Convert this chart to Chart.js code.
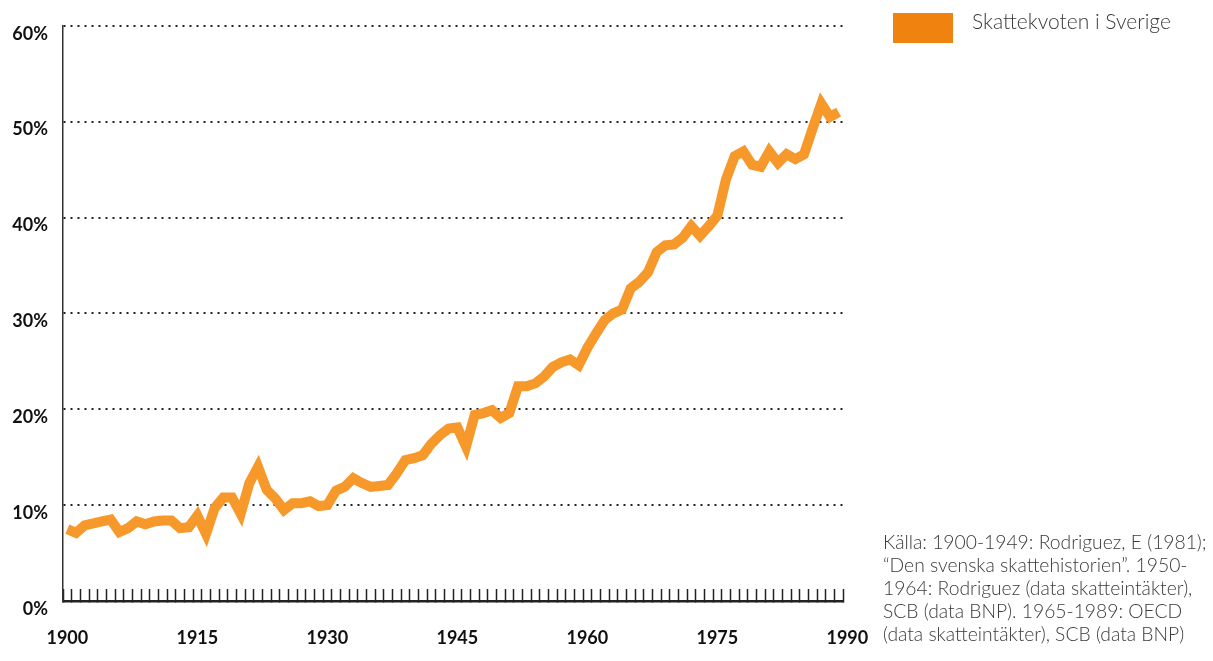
<!DOCTYPE html>
<html lang="sv">
<head>
<meta charset="utf-8">
<title>Skattekvoten i Sverige 1900-1989</title>
<script src="https://cdn.jsdelivr.net/npm/chart.js@4.4.1/dist/chart.umd.min.js"></script>
<style>
    body { margin: 0; background: #fff; overflow: hidden; font-family: Lato, "Open Sans", sans-serif; }
    #wrap { position: relative; width: 1213px; height: 661px; }
    #skattChart { position: absolute; left: 0; top: 0; }
    .legend-box { position: absolute; left: 893px; top: 13px; width: 60px; height: 30px; background: #F0820F; }
    .legend-text { position: absolute; left: 972px; top: 10px; font-size: 21px; line-height: 21px; font-weight: 300; color: #3a3a3a; white-space: nowrap; }
    .source { position: absolute; left: 883px; top: 530px; font-size: 19.3px; line-height: 23px; font-weight: 300; color: #3a3a3a; white-space: nowrap; }
</style>
</head>
<body>
<div id="wrap">
    <canvas id="skattChart" width="1213" height="661"></canvas>
    <div class="legend-box"></div>
    <div class="legend-text">Skattekvoten i Sverige</div>
    <div class="source">
        Källa: 1900-1949: Rodriguez, E (1981);<br>
        “Den svenska skattehistorien”. 1950-<br>
        1964: Rodriguez (data skatteintäkter),<br>
        SCB (data BNP). 1965-1989: OECD<br>
        (data skatteintäkter), SCB (data BNP)
    </div>
</div>

<script>
// SKATTEKVOTEN I SVERIGE

// år (ett värde per år)
const years = [
    1900, 1901, 1902, 1903, 1904, 1905, 1906, 1907, 1908, 1909,
    1910, 1911, 1912, 1913, 1914, 1915, 1916, 1917, 1918, 1919,
    1920, 1921, 1922, 1923, 1924, 1925, 1926, 1927, 1928, 1929,
    1930, 1931, 1932, 1933, 1934, 1935, 1936, 1937, 1938, 1939,
    1940, 1941, 1942, 1943, 1944, 1945, 1946, 1947, 1948, 1949,
    1950, 1951, 1952, 1953, 1954, 1955, 1956, 1957, 1958, 1959,
    1960, 1961, 1962, 1963, 1964, 1965, 1966, 1967, 1968, 1969,
    1970, 1971, 1972, 1973, 1974, 1975, 1976, 1977, 1978, 1979,
    1980, 1981, 1982, 1983, 1984, 1985, 1986, 1987, 1988, 1989,
];

// skattekvot i procent av BNP
const skattekvot = [
    7.5, 7.1, 7.9, 8.1, 8.3, 8.5, 7.2, 7.6, 8.3, 8.0,
    8.3, 8.4, 8.4, 7.6, 7.7, 8.9, 7.0, 9.7, 10.8, 10.8,
    9.1, 12.3, 14.0, 11.6, 10.7, 9.5, 10.2, 10.2, 10.4, 9.9,
    10.0, 11.5, 11.9, 12.8, 12.3, 11.9, 12.0, 12.1, 13.3, 14.7,
    14.9, 15.2, 16.4, 17.3, 18.0, 18.1, 16.1, 19.4, 19.6, 19.9,
    19.1, 19.6, 22.4, 22.4, 22.7, 23.4, 24.4, 24.9, 25.2, 24.6,
    26.4, 27.9, 29.3, 30.0, 30.4, 32.6, 33.3, 34.3, 36.4, 37.1,
    37.2, 37.9, 39.1, 38.1, 39.1, 40.2, 44.0, 46.4, 46.9, 45.5,
    45.3, 46.9, 45.7, 46.6, 46.1, 46.6, 49.3, 51.9, 50.5, 51.0,
];

// axlar
const yearLabels = [1900, 1915, 1930, 1945, 1960, 1975, 1990];
const percentTicks = [0, 10, 20, 30, 40, 50, 60];

const firstYear = years[0] - 0.5;
const lastYear = years[years.length - 1] + 0.5;

// små streck mellan åren
const yearMarks = [firstYear].concat(years.map((y) => y + 0.5));

const labelFont = { family: "Lato", weight: "bold", size: 18 };

const SKATT = document.getElementById("skattChart");

new Chart(SKATT, {
    type: "line",
    data: {
        datasets: [
            {
                label: "Skattekvoten i Sverige",
                data: years.map((y, i) => ({ x: y, y: skattekvot[i] })),
                borderColor: "#F6982A",
                borderWidth: 10,
                borderJoinStyle: "miter",
                borderCapStyle: "butt",
                pointRadius: 0,
                tension: 0,
                fill: false,
            },
        ],
    },
    options: {
        responsive: false,
        animation: false,
        layout: {
            padding: { top: 22, right: 370, bottom: 0, left: 0 },
        },
        plugins: {
            legend: { display: false },
            tooltip: { enabled: false },
        },
        scales: {
            x: {
                type: "linear",
                position: "bottom",
                weight: 0,
                min: firstYear,
                max: lastYear,
                afterBuildTicks: (scale) => {
                    scale.ticks = yearMarks.map((v) => ({ value: v }));
                },
                afterFit: (scale) => {
                    scale.height = 0;
                },
                ticks: { display: false, autoSkip: false },
                grid: {
                    drawOnChartArea: false,
                    drawTicks: true,
                    tickLength: -12,
                    tickColor: "#222",
                    tickWidth: 1.5,
                },
                border: { display: true, color: "#222", width: 2.5 },
            },
            xLabels: {
                type: "linear",
                position: "bottom",
                weight: 1,
                min: firstYear,
                max: lastYear,
                afterBuildTicks: (scale) => {
                    scale.ticks = yearLabels.map((v) => ({ value: v }));
                },
                afterFit: (scale) => {
                    scale.height = 60;
                },
                ticks: {
                    autoSkip: false,
                    maxRotation: 0,
                    padding: 26,
                    color: "#111",
                    font: labelFont,
                    callback: (v) => String(v),
                },
                grid: { display: false, drawTicks: false },
                border: { display: false },
            },
            y: {
                min: 0,
                max: 60,
                afterBuildTicks: (scale) => {
                    scale.ticks = percentTicks.map((v) => ({ value: v }));
                },
                afterFit: (scale) => {
                    scale.width = 63;
                },
                ticks: {
                    padding: 15,
                    labelOffset: 8,
                    color: "#111",
                    font: labelFont,
                    callback: (v) => v + "%",
                },
                grid: { color: "#222", lineWidth: 2, drawTicks: false },
                border: { display: true, color: "#333", width: 1.5, dash: [2, 5] },
            },
        },
    },
});
</script>
</body>
</html>
